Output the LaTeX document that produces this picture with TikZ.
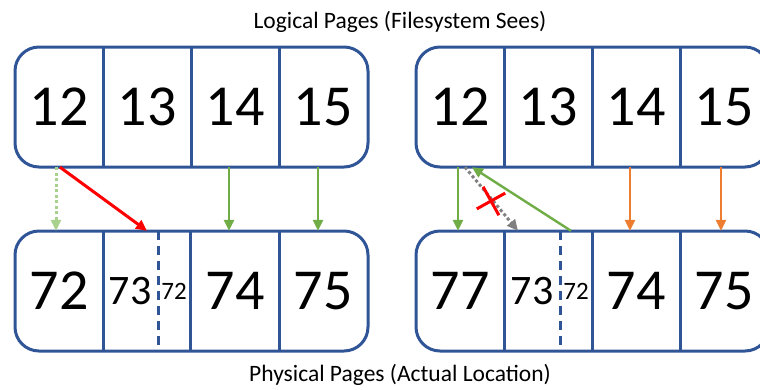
\documentclass[tikz,border=0pt]{standalone}
\usepackage{fontspec}
\setmainfont{Carlito}
\usetikzlibrary{arrows.meta,shapes.misc}

\definecolor{bleuBord}{HTML}{2F5597}
\definecolor{vertFleche}{HTML}{70AD47}
\definecolor{vertClair}{HTML}{A9D18E}
\definecolor{grisFleche}{HTML}{808080}
\definecolor{orangeFleche}{HTML}{ED7D31}

\begin{document}
\begin{tikzpicture}[x=1pt,y=-1pt]
		\tikzstyle{boite} = [draw=bleuBord,line width=3pt,rounded corners=24pt,minimum width=353pt,minimum height=120pt,inner sep=0pt]
		\tikzstyle{case} = [minimum width=88pt,minimum height=120pt,inner sep=0pt,font=\fontsize{58}{60}\selectfont]
		\tikzstyle{moyen} = [case,minimum width=56pt,font=\fontsize{42}{44}\selectfont]
		\tikzstyle{petit} = [case,minimum width=32pt,font=\fontsize{25}{27}\selectfont]
		\tikzstyle{trait} = [bleuBord,line width=3pt]
		\tikzstyle{tirets} = [bleuBord,line width=2.8pt,dash pattern=on 9pt off 6pt]
		\tikzstyle{titre} = [font=\fontsize{23.5}{25}\selectfont,anchor=base]
		\tikzstyle{fleche} = [->,>={Stealth[length=11pt,width=10pt,inset=0pt]},line width=2.4pt]
		\tikzstyle{pointille} = [fleche,line width=3pt,dash pattern=on 3pt off 2.5pt]
		
		\useasboundingbox (0,0) rectangle (760,389);
		\clip (0,0) rectangle (760,389);
		
		\node[titre](logique) at (400,28) {Logical Pages (Filesystem Sees)};
		\node[titre](physique) at (400,381) {Physical Pages (Actual Location)};
		
		% partie gauche
		\node[boite](hautG) at (191.5,107) {};
		\node[boite](basG) at (191.5,291) {};
		
		\node[case](l12) at (59,107) {12};
		\node[case](l13) at (147,107) {13};
		\node[case](l14) at (235,107) {14};
		\node[case](l15) at (323,107) {15};
		
		\node[case](p72) at (59,291) {72};
		\node[moyen](p73) at (130,291) {73};
		\node[petit](p72b) at (174,291) {72};
		\node[case](p74) at (235,291) {74};
		\node[case](p75) at (323,291) {75};
		
		\draw[trait] (l12.north east) -- (l12.south east);
		\draw[trait] (l13.north east) -- (l13.south east);
		\draw[trait] (l14.north east) -- (l14.south east);
		\draw[trait] (p72.north east) -- (p72.south east);
		\draw[tirets] (p73.north east) -- (p73.south east);
		\draw[trait] (p72b.north east) -- (p72b.south east);
		\draw[trait] (p74.north east) -- (p74.south east);
		
		\draw[pointille,vertClair] ([xshift=-3pt]l12.south) -- ([xshift=-3pt]p72.north);
		\draw[fleche,red,line width=3pt] ([xshift=1pt]l12.south) -- ([xshift=17pt]p73.north);
		\draw[fleche,vertFleche] ([xshift=-6pt]l14.south) -- ([xshift=-6pt]p74.north);
		\draw[fleche,vertFleche] ([xshift=-5pt]l15.south) -- ([xshift=-5pt]p75.north);
		
		% partie droite
		\node[boite](hautD) at (592.5,107) {};
		\node[boite](basD) at (592.5,291) {};
		
		\node[case](r12) at (460,107) {12};
		\node[case](r13) at (548,107) {13};
		\node[case](r14) at (636,107) {14};
		\node[case](r15) at (724,107) {15};
		
		\node[case](s77) at (460,291) {77};
		\node[moyen](s73) at (532,291) {73};
		\node[petit](s72) at (576,291) {72};
		\node[case](s74) at (636,291) {74};
		\node[case](s75) at (724,291) {75};
		
		\draw[trait] (r12.north east) -- (r12.south east);
		\draw[trait] (r13.north east) -- (r13.south east);
		\draw[trait] (r14.north east) -- (r14.south east);
		\draw[trait] (s77.north east) -- (s77.south east);
		\draw[tirets] (s73.north east) -- (s73.south east);
		\draw[trait] (s72.north east) -- (s72.south east);
		\draw[trait] (s74.north east) -- (s74.south east);
		
		\draw[fleche,vertFleche] ([xshift=-2pt]r12.south) -- ([xshift=-2pt]s77.north);
		\draw[pointille,grisFleche] ([xshift=5pt]r12.south) -- ([xshift=-14pt]s73.north);
		\draw[fleche,vertFleche] ([xshift=-5pt]s72.north) -- ([xshift=12pt]r12.south);
		\draw[fleche,orangeFleche] ([xshift=-6pt]r14.south) -- ([xshift=-6pt]s74.north);
		\draw[fleche,orangeFleche] ([xshift=-3pt]r15.south) -- ([xshift=-3pt]s75.north);
		
		\node[cross out,draw=red,line width=3pt,minimum size=20pt,inner sep=0pt,rotate=-16](croix) at (491,201) {};
\end{tikzpicture}
\end{document}
